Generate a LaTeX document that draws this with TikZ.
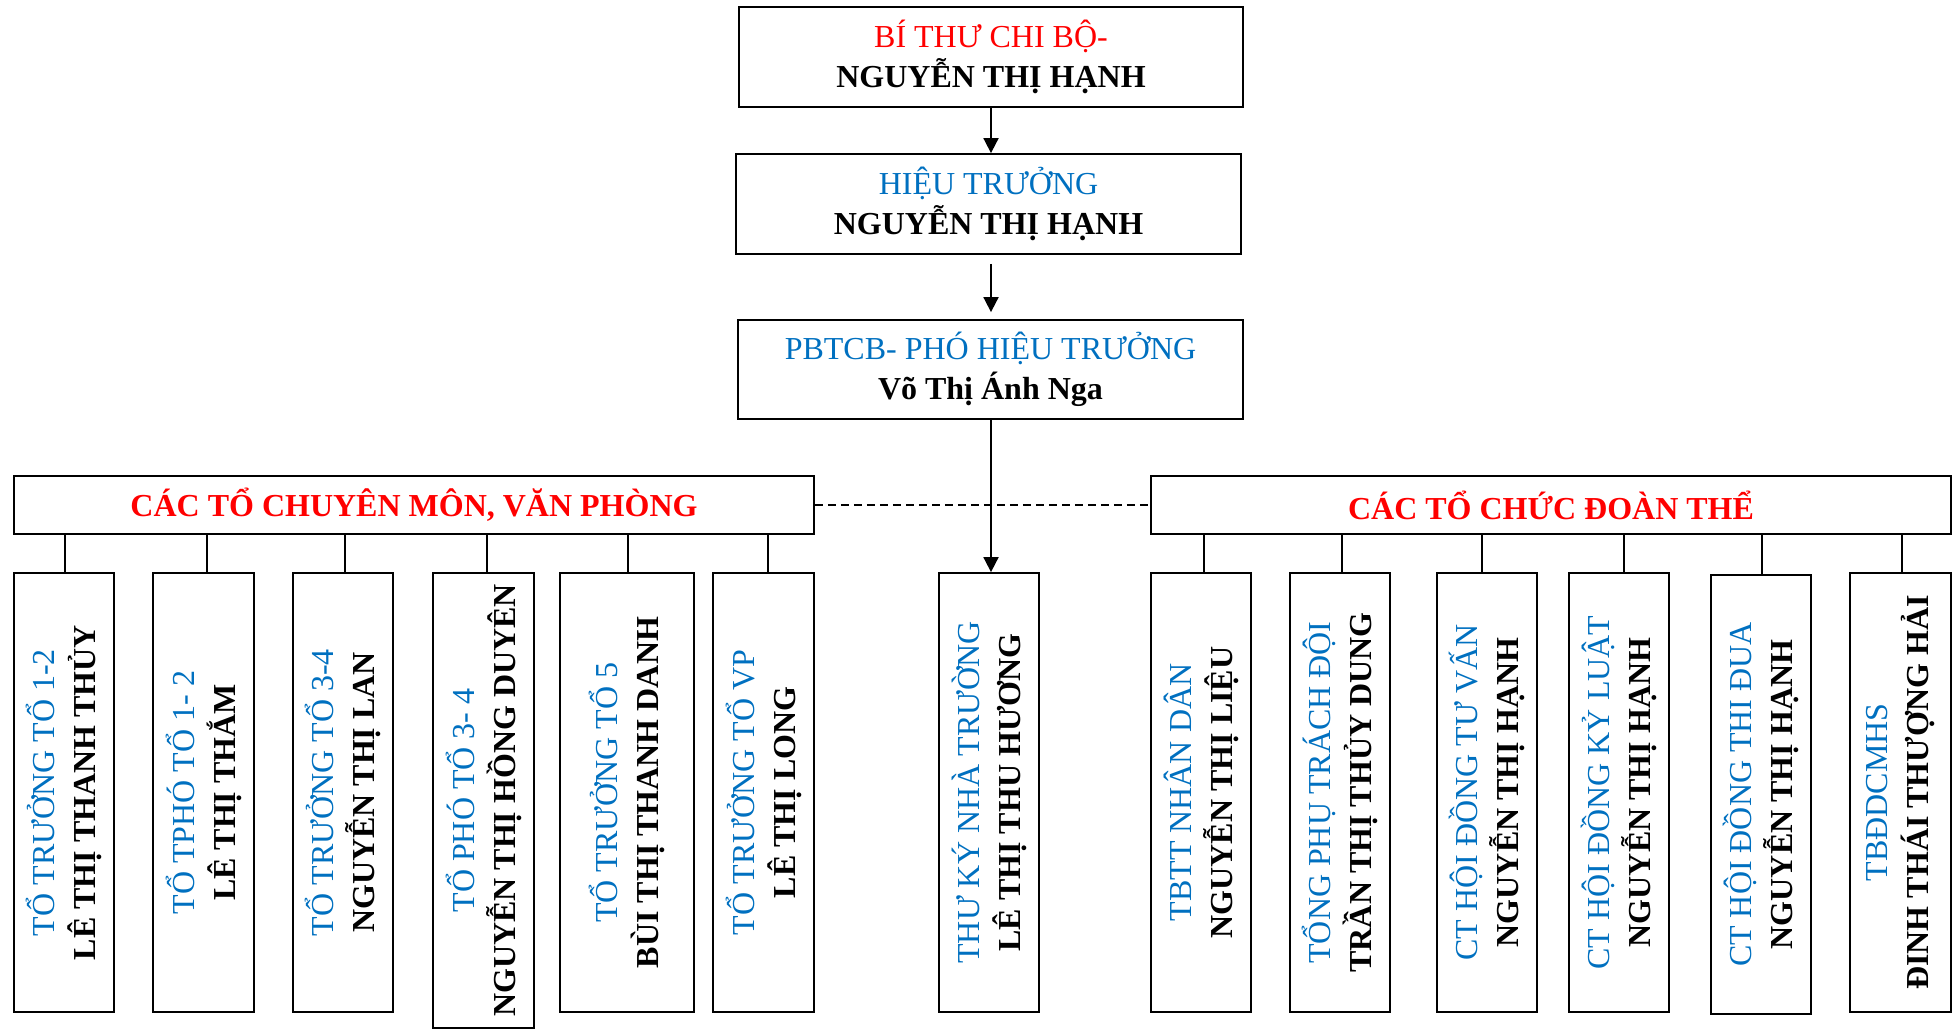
\documentclass[tikz,border=0pt]{standalone}
\usepackage{fontspec}
\setmainfont{Liberation Serif}
\usetikzlibrary{arrows.meta}
\definecolor{cred}{HTML}{FF0000}
\definecolor{cblue}{HTML}{0070C0}
\begin{document}
\begin{tikzpicture}[x=1pt,y=-1pt,
  box/.style={draw, line width=1.8pt, rectangle, inner sep=0pt, align=center,
    font=\fontsize{32}{40}\selectfont},
  vbox/.style={draw, line width=1.8pt, rectangle, inner sep=0pt, align=center,
    rotate=90, font=\fontsize{32}{41}\selectfont, minimum width=439pt, minimum height=100pt},
  grp/.style={draw, line width=1.8pt, rectangle, inner sep=0pt, minimum width=800pt,
    minimum height=58pt, font=\bfseries\fontsize{32}{40}\selectfont, text=cred},
  arr/.style={line width=1.8pt, -{Triangle[length=15pt,width=15pt]}},
  tick/.style={line width=1.8pt},
  dashcon/.style={line width=2pt, dash pattern=on 8pt off 5pt}
]
\useasboundingbox (0,0) rectangle (1957,1029);

% top chain
\node[box, minimum width=504pt, minimum height=100pt] (bt) at (991,57)
  {\textcolor{cred}{BÍ THƯ CHI BỘ-}\\\textbf{NGUYỄN THỊ HẠNH}};
\node[box, minimum width=505pt, minimum height=100pt] (ht) at (988.5,204)
  {\textcolor{cblue}{HIỆU TRƯỞNG}\\\textbf{NGUYỄN THỊ HẠNH}};
\node[box, minimum width=505pt, minimum height=99pt] (pht) at (990.5,369.5)
  {\textcolor{cblue}{PBTCB- PHÓ HIỆU TRƯỞNG}\\\textbf{Võ Thị Ánh Nga}};

% group headers
\node[grp] (gL) at (414,505) {CÁC TỔ CHUYÊN MÔN, VĂN PHÒNG};
\node[grp] (gR) at (1551,505) {CÁC TỔ CHỨC ĐOÀN THỂ};

% left column boxes
\node[vbox] (b1) at (64,792.5)
  {\textcolor{cblue}{TỔ TRƯỞNG TỔ 1-2}\\\textbf{LÊ THỊ THANH THỦY}};
\node[vbox, minimum height=101pt] (b2) at (203.5,792.5)
  {\textcolor{cblue}{TỔ TPHÓ TỔ 1- 2}\\\textbf{LÊ THỊ THẮM}};
\node[vbox] (b3) at (343,792.5)
  {\textcolor{cblue}{TỔ TRƯỞNG TỔ 3-4}\\\textbf{NGUYỄN THỊ LAN}};
\node[vbox, minimum height=101pt, minimum width=455pt] (b4) at (483.5,800.5)
  {\textcolor{cblue}{TỔ PHÓ TỔ 3- 4}\\\textbf{NGUYỄN THỊ HỒNG DUYÊN}};
\node[vbox, minimum height=134pt] (b5) at (627,792.5)
  {\textcolor{cblue}{TỔ TRƯỞNG TỔ 5}\\\textbf{BÙI THỊ THANH DANH}};
\node[vbox, minimum height=101pt] (b6) at (763.5,792.5)
  {\textcolor{cblue}{TỔ TRƯỞNG TỔ VP}\\\textbf{LÊ THỊ LONG}};

% secretary
\node[vbox] (tk) at (989,792.5)
  {\textcolor{cblue}{THƯ KÝ NHÀ TRƯỜNG}\\\textbf{LÊ THỊ THU HƯƠNG}};

% right column boxes
\node[vbox] (r1) at (1201,792.5)
  {\textcolor{cblue}{TBTT NHÂN DÂN}\\\textbf{NGUYỄN THỊ LIỆU}};
\node[vbox] (r2) at (1340,792.5)
  {\textcolor{cblue}{TỔNG PHỤ TRÁCH ĐỘI}\\\textbf{TRẦN THỊ THỦY DUNG}};
\node[vbox] (r3) at (1487,792.5)
  {\textcolor{cblue}{CT HỘI ĐỒNG TƯ VẤN}\\\textbf{NGUYỄN THỊ HẠNH}};
\node[vbox] (r4) at (1619,792.5)
  {\textcolor{cblue}{CT HỘI ĐỒNG KỶ LUẬT}\\\textbf{NGUYỄN THỊ HẠNH}};
\node[vbox] (r5) at (1761,794.5)
  {\textcolor{cblue}{CT HỘI ĐỒNG THI ĐUA}\\\textbf{NGUYỄN THỊ HẠNH}};
\node[vbox, minimum height=101pt] (r6) at (1900.5,792.5)
  {\textcolor{cblue}{TBĐDCMHS}\\\textbf{ĐINH THÁI THƯỢNG HẢI}};

% connectors
\draw[arr] (bt.south) -- (bt.south |- ht.north);
\draw[arr, shorten <=9pt, shorten >=7pt] (bt.south |- ht.south) -- (bt.south |- pht.north);
\draw[arr] (bt.south |- pht.south) -- (bt.south |- tk.east);
\draw[dashcon] (gL.east) -- (gR.west);

\foreach \b/\s in {b1/1,b2/3.5,b3/2,b4/3.5,b5/1,b6/4.5}
  \draw[tick] ([xshift=\s pt]\b.east) -- ([xshift=\s pt]\b.east |- gL.south);
\foreach \b/\s in {r1/3,r2/2,r3/-5,r4/5,r5/1,r6/1.5}
  \draw[tick] ([xshift=\s pt]\b.east) -- ([xshift=\s pt]\b.east |- gR.south);
\end{tikzpicture}
\end{document}
